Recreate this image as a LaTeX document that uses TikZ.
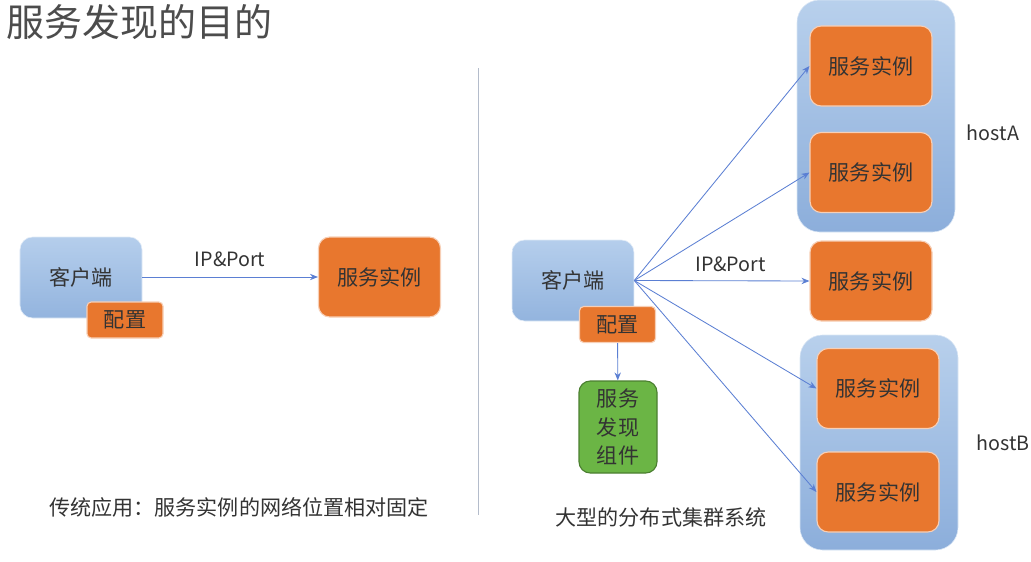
\documentclass[tikz,border=0pt]{standalone}
\usepackage{fontspec}
\setmainfont{Noto Sans CJK SC}
\usepackage{xcolor}
\usepackage{tikz}
\usetikzlibrary{positioning, arrows.meta, calc}

\definecolor{instorange}{HTML}{E8772E}
\definecolor{clienttop}{HTML}{B5CEEC}
\definecolor{clientbot}{HTML}{93B4DE}
\definecolor{hosttop}{HTML}{B8D0EC}
\definecolor{hostbot}{HTML}{8CAEDB}
\definecolor{findgreen}{HTML}{6BB545}
\definecolor{arrowblue}{HTML}{5B7FD3}
\definecolor{txtgray}{HTML}{333333}
\definecolor{divgray}{HTML}{B4BCCB}

\begin{document}
\begin{tikzpicture}[
          client/.style={rounded corners=9pt, minimum width=3.05cm, minimum height=2.025cm, top color=clienttop, bottom color=clientbot, draw=white!60!clienttop, align=center, font=\fontsize{15}{18}\selectfont, text=txtgray},
          inst/.style={draw=white!65!instorange, line width=0.8pt, fill=instorange, rounded corners=8pt, minimum width=3.05cm, minimum height=2cm, align=center, font=\fontsize{15}{18}\selectfont, text=txtgray},
          cfg/.style={draw=white!65!instorange, line width=0.8pt, fill=instorange, rounded corners=3pt, minimum width=1.9cm, minimum height=0.9cm, align=center, font=\fontsize{15}{18}\selectfont, text=txtgray},
          host/.style={rounded corners=16pt, minimum width=3.95cm, top color=hosttop, bottom color=hostbot, draw=white!50!hosttop},
          finder/.style={draw=findgreen!70!black, line width=0.8pt, fill=findgreen, rounded corners=8pt, minimum width=1.95cm, minimum height=2.3cm, align=center, font=\fontsize{15}{20}\selectfont, text=txtgray},
          arr/.style={-{Stealth[length=2mm, width=1.6mm]}, line width=0.6pt, #1},
          lbl/.style={font=\fontsize{14}{16}\selectfont, text=txtgray},
          caption/.style={font=\fontsize{15}{18}\selectfont, text=txtgray}
        ]
        \useasboundingbox (0, 0) rectangle (25.775, -14.025);
        \node[anchor=west, font=\fontsize{27}{30}\selectfont, text=black!70] (title) at (0.05, -0.55) {服务发现的目的};
        \draw[divgray, line width=0.7pt] (11.95, -1.7) -- (11.95, -12.875);
        % traditional
        \node[client] (cl) at (2.025, -6.9375) {客户端};
        \node[cfg] (cfgl) at (3.125, -8.0) {配置};
        \node[inst] (il) at (9.4875, -6.925) {服务实例};
        \draw[arr=arrowblue] (cl.east |- il) -- node[lbl, above=0.12cm] {IP\&Port} (il);
        \node[caption] (capl) at (5.975, -12.675) {传统应用：服务实例的网络位置相对固定};
        % cluster
        \node[host, minimum height=5.8cm] (hosta) at (21.9, -2.9) {};
        \node[host, minimum height=5.375cm] (hostb) at (21.975, -11.0625) {};
        \node[lbl] (hosta lbl) at (24.825, -3.325) {hostA};
        \node[lbl] (hostb lbl) at (25.075, -11.075) {hostB};
        \node[inst] (a1) at (21.775, -1.65) {服务实例};
        \node[inst] (a2) at (21.775, -4.3125) {服务实例};
        \node[inst] (mid) at (21.775, -7.025) {服务实例};
        \node[inst] (b1) at (21.95, -9.7125) {服务实例};
        \node[inst] (b2) at (21.95, -12.3) {服务实例};
        \node[client] (cr) at (14.325, -7.0125) {客户端};
        \node[cfg] (cfgr) at (15.4375, -8.1125) {配置};
        \node[finder] (find) at (15.45, -10.675) {服务\\发现\\组件};
        \draw[arr=arrowblue] (cr.east) -- (a1.west);
        \draw[arr=arrowblue] (cr.east) -- (a2.west);
        \draw[arr=arrowblue] (cr.east) -- node[lbl, pos=0.55, above=0.1cm] {IP\&Port} (mid.west);
        \draw[arr=arrowblue] (cr.east) -- (b1.west);
        \draw[arr=arrowblue] (cr.east) -- (b2.west);
        \draw[arr=arrowblue] (cfgr) -- (find);
        \node[caption] (capr) at (16.525, -12.925) {大型的分布式集群系统};
        \end{tikzpicture}
\end{document}
